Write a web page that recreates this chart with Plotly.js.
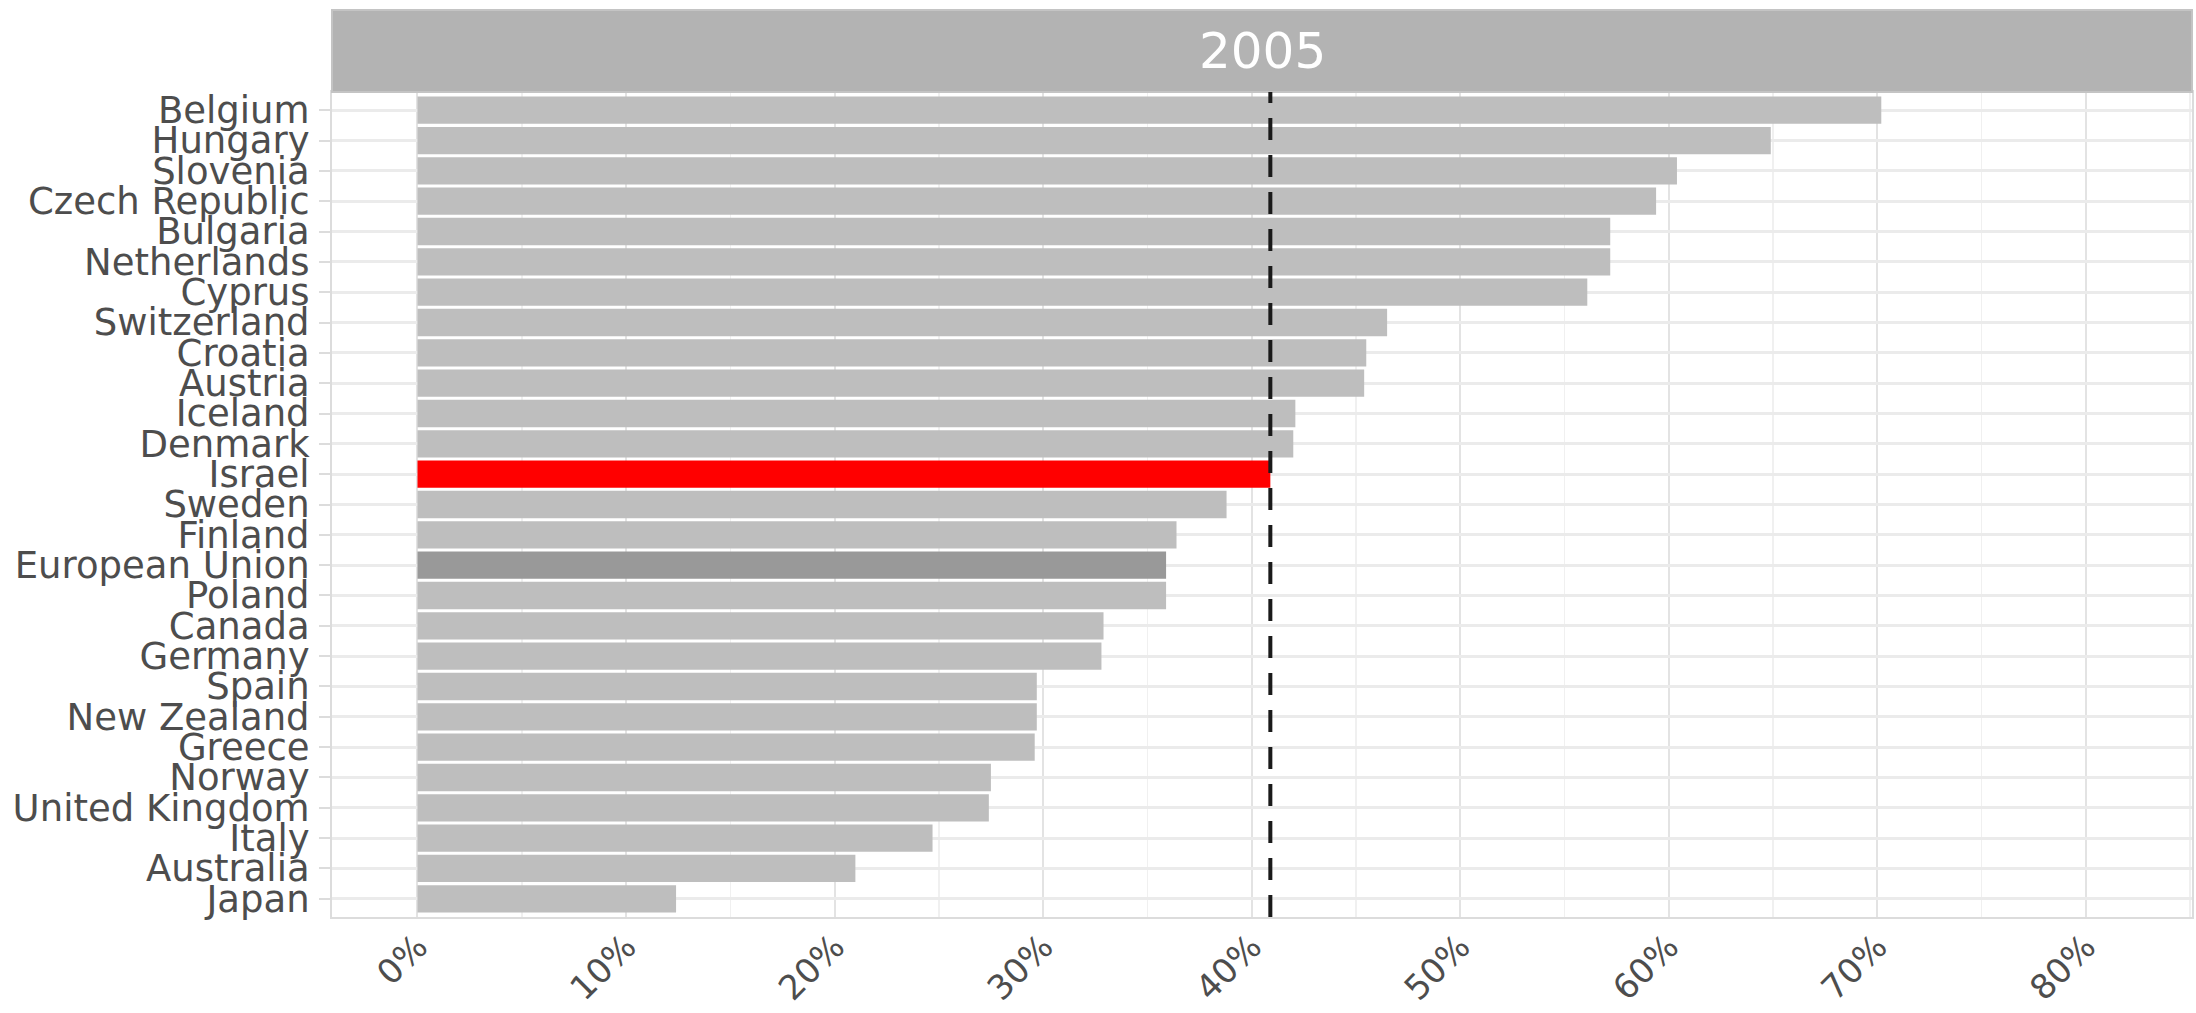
<!DOCTYPE html>
<html>
<head>
<meta charset="utf-8">
<script src="https://cdn.plot.ly/plotly-3.0.1.min.js"></script>
<style>html,body{margin:0;padding:0;background:#fff;}#chart{width:2196px;height:1013px;}</style>
</head>
<body>
<div id="chart"></div>
<script>
// Countries from top to bottom as shown
const countries = ["Belgium","Hungary","Slovenia","Czech Republic","Bulgaria","Netherlands","Cyprus",
  "Switzerland","Croatia","Austria","Iceland","Denmark","Israel","Sweden","Finland","European Union",
  "Poland","Canada","Germany","Spain","New Zealand","Greece","Norway","United Kingdom","Italy","Australia","Japan"];
const shares = [70.2,64.9,60.4,59.4,57.2,57.2,56.1,46.5,45.5,45.4,42.1,42.0,40.9,38.8,36.4,35.9,
  35.9,32.9,32.8,29.7,29.7,29.6,27.5,27.4,24.7,21.0,12.4];
const israelValue = 40.9;
const panelYear = "2005";
const xTickVals = [0,10,20,30,40,50,60,70,80];
const xTickText = ["0%","10%","20%","30%","40%","50%","60%","70%","80%"];

const colorFor = c => c === "Israel" ? "#ff0000" : (c === "European Union" ? "#999999" : "#bebebe");

const trace = {
  type: "bar",
  orientation: "h",
  y: countries,
  x: shares,
  width: 0.9,
  marker: {color: countries.map(colorFor), line: {width: 0}},
  hoverinfo: "x+y"
};

const font = "DejaVu Sans, sans-serif";
const stripH = 82 / 825;

const layout = {
  width: 2196, height: 1013,
  margin: {l: 332, r: 4, t: 92, b: 96},
  paper_bgcolor: "#ffffff",
  plot_bgcolor: "#ffffff",
  showlegend: false,
  xaxis: {
    range: [-4.1, 85.1],
    tickmode: "array", tickvals: xTickVals, ticktext: xTickText,
    tickangle: -45,
    tickfont: {family: font, size: 34, color: "#4d4d4d"},
    ticks: "",
    ticklabelstandoff: -6,
    showgrid: true, gridcolor: "#e3e3e3", gridwidth: 2,
    minor: {dtick: 5, tick0: 0, showgrid: true, gridcolor: "#f0f0f0", gridwidth: 1.5},
    zeroline: false,
    showline: true, linecolor: "#dcdcdc", linewidth: 2, mirror: true,
    fixedrange: true
  },
  yaxis: {
    type: "category",
    categoryorder: "array",
    categoryarray: countries.slice().reverse(),
    tickmode: "array",
    tickvals: countries,
    ticktext: countries,
    range: [-0.6, 26.6],
    tickfont: {family: font, size: 37, color: "#4d4d4d"},
    ticks: "outside", ticklen: 11, tickcolor: "#dcdcdc", tickwidth: 2,
    ticklabelstandoff: 2,
    showgrid: true, gridcolor: "#ebebeb", gridwidth: 3,
    zeroline: false,
    showline: true, linecolor: "#dcdcdc", linewidth: 2, mirror: true,
    fixedrange: true
  },
  shapes: [
    {type: "rect", xref: "paper", yref: "paper", x0: 0, x1: 1, y0: 1, y1: 1 + stripH,
     fillcolor: "#b3b3b3", line: {color: "#c4c4c4", width: 2}, layer: "above"},
    {type: "line", xref: "x", yref: "paper", x0: israelValue, x1: israelValue, y0: 0, y1: 1,
     line: {color: "#1a1a1a", width: 4, dash: "22px,15px"}, layer: "above"}
  ],
  annotations: [
    {text: panelYear, xref: "paper", yref: "paper", x: 0.5, y: 1 + stripH / 2,
     xanchor: "center", yanchor: "middle", showarrow: false,
     font: {family: font, size: 50, color: "#ffffff"}}
  ]
};

Plotly.newPlot("chart", [trace], layout, {displayModeBar: false, staticPlot: true});
</script>
</body>
</html>
